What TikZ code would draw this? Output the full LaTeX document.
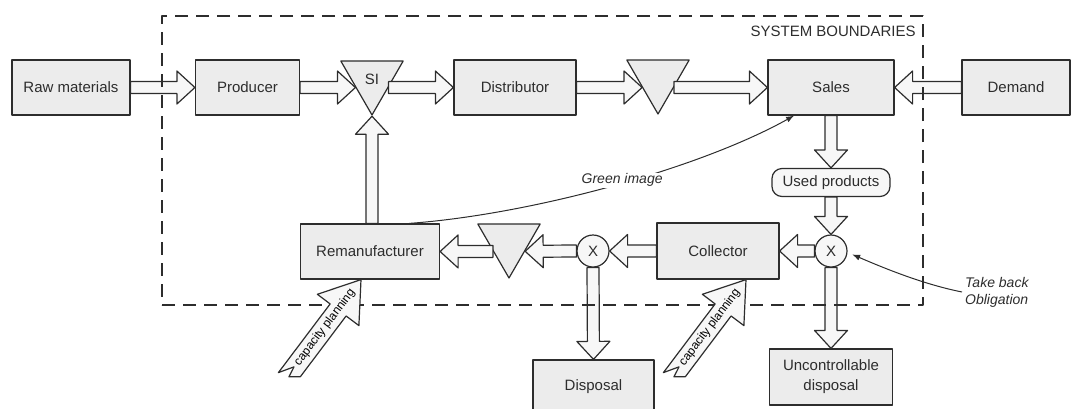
\documentclass[tikz,border=0pt]{standalone}
\usepackage{fontspec}
\setmainfont{Liberation Sans}
\usetikzlibrary{shapes.geometric,calc,arrows.meta}

\definecolor{boxgray}{RGB}{236,236,236}
\definecolor{arrgray}{RGB}{247,247,247}
\definecolor{linegray}{RGB}{45,45,45}

\newcommand{\fatarrow}[2]{%
\path ($(#2)!18pt!(#1)$) coordinate (fah);
\draw [fatarr] ($(#1)!6pt!90:(#2)$) -- ($(fah)!6pt!90:(#2)$) -- ($(fah)!16.5pt!90:(#2)$) -- (#2) -- ($(fah)!16.5pt!-90:(#2)$) -- ($(fah)!6pt!-90:(#2)$) -- ($(#1)!6pt!-90:(#2)$) -- cycle;}

\newcommand{\caparrow}[2]{%
\begin{scope}[shift={(#1)}, rotate=#2]
\draw [fatarr] (0,0) -- (-38,26) -- (-38,10) -- (-114,10) -- (-121,1) -- (-110,-1) -- (-124,-10) -- (-38,-10) -- (-38,-26) -- cycle;
\node [rotate=#2, font=\fontsize{12}{14}\selectfont, inner sep=0pt] at (-60,0) {capacity planning};
\end{scope}}

\begin{document}
\begin{tikzpicture}[x=1pt, y=-1pt, line join=round,
  box/.style={draw=linegray, fill=boxgray, line width=1.2pt, minimum height=55pt, inner sep=2pt, text=linegray, font=\fontsize{15}{20}\selectfont},
  tri/.style={draw=linegray, fill=boxgray, line width=1.2pt, regular polygon, regular polygon sides=3, shape border rotate=180, minimum size=72pt, inner sep=0pt, text=linegray, font=\fontsize{15}{18}\selectfont},
  xing/.style={draw=linegray, fill=arrgray, line width=1.2pt, circle, minimum size=32pt, inner sep=0pt, text=linegray, font=\fontsize{15}{18}\selectfont},
  fatarr/.style={draw=linegray, fill=arrgray, line width=1.2pt, text=linegray},
  note/.style={text=linegray, font=\fontsize{14}{17}\selectfont\itshape}]
\useasboundingbox (0,0) rectangle (1072,408);

\node [box, minimum width=118pt] (raw) at (71,87.5) {Raw materials};
\node [box, minimum width=104pt] (prod) at (247.5,87.5) {Producer};
\node [tri] (si) at (372,79) {SI};
\node [box, minimum width=122pt] (dist) at (515,87.5) {Distributor};
\node [tri] (stock) at (658,78) {};
\node [box, minimum width=126pt] (sales) at (831,87.5) {Sales};
\node [box, minimum width=108pt] (demand) at (1016,87.5) {Demand};

\node [box, fill=arrgray, rounded corners=10pt, minimum width=118pt, minimum height=28pt] (used) at (831,182.5) {Used products};
\node [xing] (xa) at (831,251) {X};
\node [box, minimum width=122pt, minimum height=56pt] (coll) at (718,251) {Collector};
\node [xing] (xb) at (593,251) {X};
\node [tri] (buffer) at (509,242) {};
\node [box, minimum width=139pt] (reman) at (370,251.5) {Remanufacturer};

\node [box, minimum width=121pt, minimum height=54pt] (disp) at (593.5,387) {Disposal};
\node [box, minimum width=123pt, minimum height=56pt, align=center] (uncd) at (831,377) {Uncontrollable\\disposal};

\coordinate (si-in) at (intersection of si.corner 3--si.corner 1 and prod.east--dist.west);
\coordinate (si-out) at (intersection of si.corner 1--si.corner 2 and prod.east--dist.west);
\coordinate (st-in) at (intersection of stock.corner 3--stock.corner 1 and dist.east--sales.west);
\coordinate (st-out) at (intersection of stock.corner 1--stock.corner 2 and dist.east--sales.west);
\coordinate (bf-in) at (intersection of buffer.corner 1--buffer.corner 2 and coll.west--reman.east);
\coordinate (bf-out) at (intersection of buffer.corner 3--buffer.corner 1 and coll.west--reman.east);
\coordinate (reman-top) at (si.corner 1 |- reman.north);

\fatarrow{raw.east}{prod.west}
\fatarrow{prod.east}{si-in}
\fatarrow{si-out}{dist.west}
\fatarrow{dist.east}{st-in}
\fatarrow{st-out}{sales.west}
\fatarrow{demand.west}{sales.east}
\fatarrow{sales.south}{used.north}
\fatarrow{used.south}{xa.north}
\fatarrow{xa.west}{coll.east}
\fatarrow{xa.south}{uncd.north}
\fatarrow{coll.west}{xb.east}
\fatarrow{xb.south}{disp.north}
\fatarrow{xb.west}{bf-in}
\fatarrow{bf-out}{reman.east}
\fatarrow{reman-top}{si.corner 1}

\node [draw=linegray, dash pattern=on 13pt off 8pt, line width=1.6pt, minimum width=761pt, minimum height=289pt] (bnd) at (542.5,160.5) {};
\node [anchor=north east, inner sep=0pt, text=linegray, font=\fontsize{15}{18}\selectfont] (bndlabel) at ($(bnd.north east)+(-8,11)$) {SYSTEM BOUNDARIES};

\coordinate (reman-cap) at ($(reman.south)+(-9,0)$);
\coordinate (coll-cap) at ($(coll.south)+(28,0)$);
\caparrow{reman-cap}{53}
\caparrow{coll-cap}{53}

\coordinate (gi-a) at ($(reman.north west)!0.78!(reman.north east)$);
\coordinate (gi-b) at ($(sales.south west)!0.21!(sales.south east)$);
\draw [linegray, line width=1pt, -{Latex[length=8pt,width=6pt]}] (gi-a) .. controls +(122,-9) and +(-95,53) .. (gi-b) node [note, pos=0.525, fill=white, inner sep=1pt, yshift=3pt] (green) {Green image};

\node [note, anchor=west, align=left, inner sep=3pt] (oblig) at (962,292) {Take back\\Obligation};
\draw [linegray, line width=1pt, shorten >=5pt, -{Latex[length=8pt,width=6pt]}] (oblig.west) .. controls +(-40,-8) and +(35,15) .. (xa.-5);
\end{tikzpicture}
\end{document}
